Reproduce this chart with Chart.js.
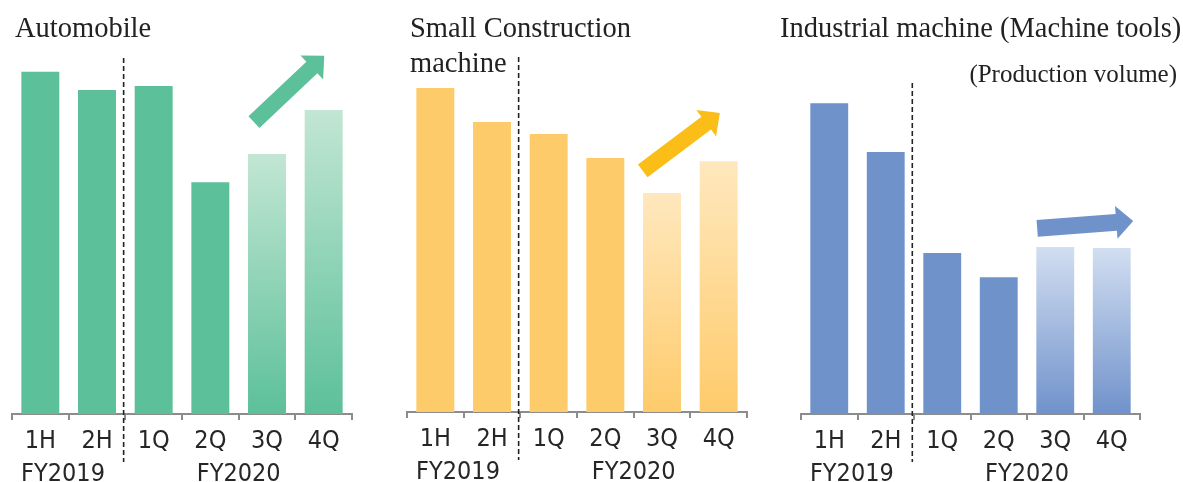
<!DOCTYPE html>
<html>
<head>
<meta charset="utf-8">
<script src="https://cdn.jsdelivr.net/npm/chart.js@4.4.1/dist/chart.umd.min.js"></script>
<style>
  body{
    margin:0;
    background:#fff;
    width:1183px;
    height:482px;
    position:relative;
    overflow:hidden;
  }
  .panel{
    position:absolute;
    top:0;
    height:482px;
  }
</style>
</head>
<body>

<div class="panel" style="left:0;width:395px"><canvas id="autoChart"></canvas></div>
<div class="panel" style="left:395px;width:385px"><canvas id="constructionChart"></canvas></div>
<div class="panel" style="left:780px;width:403px"><canvas id="toolsChart"></canvas></div>

<script>
/* =========================================================
   DATA  (index)
========================================================= */

const periods = ["1H", "2H", "1Q", "2Q", "3Q", "4Q"];

const fiscalYears = ["FY2019", "FY2020"];

const automobile = [94.0, 89.0, 90.1, 63.7, 71.4, 83.5];

const smallConstruction = [89.5, 80.1, 76.8, 70.2, 60.5, 69.3];

const machineTools = [85.4, 72.0, 44.2, 37.6, 45.9, 45.6];

// 3Q and 4Q are outlook -> faded bars
const outlookFrom = 4;

/* =========================================================
   PANELS
========================================================= */

const labelFont = "'Liberation Sans Narrow', 'DejaVu Sans Condensed', 'Roboto Condensed', sans-serif";
const titleFont = "'Liberation Serif', 'DejaVu Serif', serif";

const panels = [
  {
    id:"autoChart",
    title:["Automobile"],
    titleX:15,
    values:automobile,
    color:"#5cc09a",
    light:"#c2e6d4",
    arrow:{ from:[3.77, 80.2], to:[5.01, 98.4], color:"#5cc09a", shaft:8 },
    dividerTop:97.8,
    padLeft:12,
    padRight:43,
    axisGap:68
  },
  {
    id:"constructionChart",
    title:["Small Construction", "machine"],
    titleX:15,
    values:smallConstruction,
    color:"#fecb6b",
    light:"#ffe8be",
    arrow:{ from:[3.66, 66.6], to:[5.02, 82.6], color:"#fbbd18", shaft:8 },
    dividerTop:98.1,
    padLeft:12,
    padRight:33,
    axisGap:70
  },
  {
    id:"toolsChart",
    title:["Industrial machine (Machine tools)"],
    titleX:0,
    note:"(Production volume)",
    values:machineTools,
    color:"#7092cb",
    light:"#d2def1",
    arrow:{ from:[3.68, 51.0], to:[5.38, 53.0], color:"#7092cb", shaft:8.5 },
    dividerTop:90.9,
    padLeft:21,
    padRight:43,
    axisGap:68
  }
];

/* =========================================================
   PLUGIN: titles, FY labels, divider, arrow
========================================================= */

const decorations = {
  id:"decorations",

  afterDraw(chart, args, p){
    const c = chart.ctx;
    const x = chart.scales.x;
    const y = chart.scales.y;
    const axisY = chart.chartArea.bottom;

    c.save();

    /* TITLES */
    c.fillStyle = "#222";
    c.font = "28.5px " + titleFont;
    c.textAlign = "left";
    c.textBaseline = "alphabetic";
    p.title.forEach((line, i)=>{
      c.fillText(line, p.titleX, 37 + i * 35);
    });

    if(p.note){
      c.font = "25px " + titleFont;
      c.textAlign = "right";
      c.fillText(p.note, chart.width - 6, 82);
    }

    /* FISCAL YEARS */
    c.font = "25px " + labelFont;
    c.textAlign = "center";
    c.textBaseline = "middle";
    c.fillStyle = "#262626";
    const fyPos = [0.4, 3.5];
    fiscalYears.forEach((fy, i)=>{
      c.fillText(fy, x.getPixelForValue(fyPos[i]), axisY + 60);
    });

    /* DIVIDER */
    const dx = x.getPixelForValue(1.47);
    c.strokeStyle = "#222";
    c.lineWidth = 1.6;
    c.setLineDash([5, 3]);
    c.beginPath();
    c.moveTo(dx, y.getPixelForValue(p.dividerTop));
    c.lineTo(dx, axisY + 48);
    c.stroke();
    c.setLineDash([]);

    /* ARROW */
    const a = p.arrow;
    const tx = x.getPixelForValue(a.from[0]);
    const ty = y.getPixelForValue(a.from[1]);
    const hx = x.getPixelForValue(a.to[0]);
    const hy = y.getPixelForValue(a.to[1]);
    const len = Math.hypot(hx - tx, hy - ty);
    const ux = (hx - tx) / len;
    const uy = (hy - ty) / len;
    const nx = -uy;
    const ny = ux;
    const shaft = a.shaft, head = 16.5, headLen = 17;
    const bx = hx - ux * headLen;
    const by = hy - uy * headLen;

    c.fillStyle = a.color;
    c.beginPath();
    c.moveTo(tx + nx * shaft, ty + ny * shaft);
    c.lineTo(bx + nx * shaft, by + ny * shaft);
    c.lineTo(bx + nx * head, by + ny * head);
    c.lineTo(hx, hy);
    c.lineTo(bx - nx * head, by - ny * head);
    c.lineTo(bx - nx * shaft, by - ny * shaft);
    c.lineTo(tx - nx * shaft, ty - ny * shaft);
    c.closePath();
    c.fill();

    c.restore();
  }
};

/* =========================================================
   CHARTS
========================================================= */

function barColor(p){
  return (ctx)=>{
    const i = ctx.dataIndex;
    const chart = ctx.chart;
    const y = chart.scales.y;
    if(i < outlookFrom || !chart.chartArea || !y) return p.color;
    const top = y.getPixelForValue(p.values[i]);
    const bottom = y.getPixelForValue(0);
    const g = chart.ctx.createLinearGradient(0, top, 0, bottom);
    g.addColorStop(0, p.light);
    g.addColorStop(1, p.color);
    return g;
  };
}

panels.forEach((p)=>{

  new Chart(document.getElementById(p.id), {

    type:"bar",

    data:{
      labels:periods,
      datasets:[{
        data:p.values,
        backgroundColor:barColor(p),
        borderWidth:0,
        barPercentage:0.67,
        categoryPercentage:1
      }]
    },

    plugins:[decorations],

    options:{
      responsive:true,
      maintainAspectRatio:false,
      animation:false,
      events:[],

      layout:{
        padding:{ top:50, left:p.padLeft, right:p.padRight, bottom:0 }
      },

      plugins:{
        legend:{ display:false },
        tooltip:{ enabled:false },
        decorations:p
      },

      scales:{
        x:{
          afterFit(scale){ scale.height = p.axisGap; },
          border:{ color:"#8c8c8c", width:2 },
          grid:{
            offset:true,
            drawOnChartArea:false,
            drawTicks:true,
            tickLength:6,
            color:"#8c8c8c",
            lineWidth:2
          },
          ticks:{
            color:"#262626",
            padding:6,
            maxRotation:0,
            font:{ family:labelFont, size:25 }
          }
        },
        y:{
          display:false,
          min:0,
          max:100
        }
      }
    }

  });

});
</script>
</body>
</html>
